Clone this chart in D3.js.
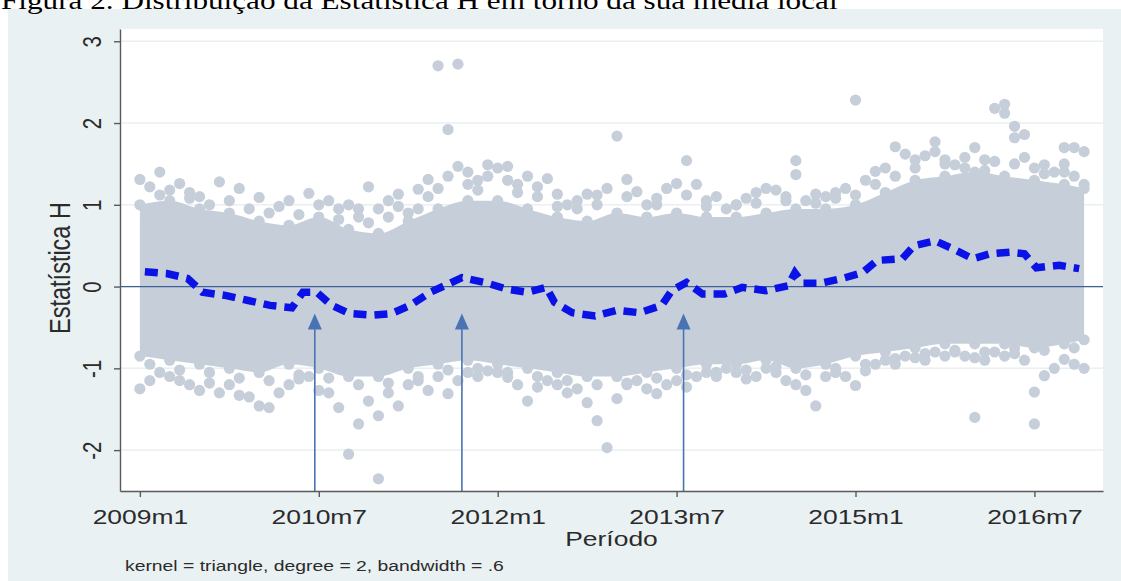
<!DOCTYPE html>
<html>
<head>
<meta charset="utf-8">
<script src="https://cdn.jsdelivr.net/npm/d3@7"></script>
<style>
  body { margin: 0; background: #ffffff; }
  text { font-family: "Liberation Sans", Arial, sans-serif; fill: #2b2b2b; }
</style>
</head>
<body>
<div id="chart"></div>
<script>
// months counted from 2009m1 = 0
var xTickMonths = [0, 18, 36, 54, 72, 90];
var xTickLabels = ["2009m1", "2010m7", "2012m1", "2013m7", "2015m1", "2016m7"];
var yTicks = [-2, -1, 0, 1, 2, 3];

// local polynomial smoother (blue dashed)
var smoothMonth = [0.5, 2.7, 4.8, 6.3, 8.7, 10.9, 13.1, 15.3, 16.4, 17.8, 19.3, 21.1, 23.4, 25.3, 27.2, 29.2, 31.2, 32.4, 34.7, 36.9, 39, 40.9, 41.7, 43.5, 45.8, 48, 50.3, 52.5, 53.5, 55, 56.6, 58.8, 60.6, 63, 65.2, 65.9, 66.7, 68.4, 70.7, 72.7, 74.2, 76.7, 77.9, 80, 82, 83.8, 85.5, 87.5, 89, 90.2, 92.5, 94.5];
var smoothValue = [0.18, 0.16, 0.10, -0.07, -0.11, -0.17, -0.23, -0.26, -0.07, -0.07, -0.23, -0.33, -0.35, -0.33, -0.23, -0.07, 0.04, 0.11, 0.05, -0.03, -0.07, -0.01, -0.19, -0.32, -0.36, -0.29, -0.32, -0.23, -0.05, 0.05, -0.09, -0.09, -0.01, -0.05, 0.01, 0.17, 0.04, 0.04, 0.10, 0.17, 0.32, 0.34, 0.50, 0.56, 0.45, 0.34, 0.40, 0.42, 0.40, 0.23, 0.26, 0.22];

// dense part of the cloud of H statistics (top and bottom)
var bandMonth = [0, 3, 6, 9, 12, 15, 18, 21, 24, 27, 30, 33, 36, 39, 42, 45, 48, 51, 54, 57, 60, 63, 66, 69, 72, 75, 78, 81, 84, 87, 90, 93, 95];
var bandHi = [1.0, 1.05, 0.95, 0.9, 0.8, 0.75, 0.85, 0.7, 0.65, 0.8, 0.95, 1.05, 1.05, 0.95, 0.85, 0.8, 0.9, 0.85, 0.9, 0.85, 0.85, 0.9, 0.95, 0.95, 1.0, 1.15, 1.3, 1.35, 1.4, 1.35, 1.3, 1.25, 1.2];
var bandLo = [-0.85, -0.9, -0.95, -1.0, -1.05, -0.95, -1.0, -1.1, -1.1, -1.0, -0.95, -0.9, -0.95, -1.0, -1.05, -1.1, -1.1, -1.05, -1.0, -0.95, -0.95, -0.9, -1.0, -0.95, -0.85, -0.8, -0.75, -0.7, -0.7, -0.7, -0.75, -0.7, -0.65];

// scattered observations outside the dense band
var upMonth = [0, 2, 4, 8, 12, 17, 19, 23, 26, 28, 29, 30, 32, 31, 32, 35, 37, 39, 41, 42, 45, 48, 49, 50, 54, 55, 56, 59, 63, 66, 66, 68, 71, 72, 74, 76, 77, 80, 80, 82, 84, 86, 87, 87, 88, 88, 89, 89, 86, 91, 93, 94, 95, 95,
  1, 3, 5, 6, 9, 10, 14, 15, 20, 21, 22, 24, 25, 27, 31, 33, 34, 36, 38, 40, 43, 44, 46, 47, 51, 52, 53, 57, 58, 60, 61, 62, 64, 65, 67, 69, 70, 73, 75, 78, 79, 81, 83, 85, 90, 92, 93, 94,
  2, 5, 7, 11, 13, 16, 18, 20, 22, 23, 25, 26, 28, 29, 30, 33, 34, 35, 37, 38, 40, 42, 44, 46, 49, 52, 55, 57, 60, 62, 65, 68, 70, 72, 74, 76, 78, 81, 83, 85, 88, 91, 93];
var upValue = [1.31, 1.40, 1.26, 1.28, 1.09, 1.14, 1.05, 1.22, 1.13, 1.19, 1.31, 2.70, 2.72, 1.92, 1.47, 1.49, 1.47, 1.35, 1.32, 1.13, 1.13, 1.84, 1.31, 1.16, 1.26, 1.54, 1.25, 0.95, 1.20, 1.54, 1.37, 1.13, 1.20, 2.28, 1.41, 1.71, 1.62, 1.77, 1.65, 1.49, 1.70, 2.18, 2.23, 2.12, 1.96, 1.82, 1.86, 1.58, 1.53, 1.49, 1.70, 1.70, 1.65, 1.25,
  1.22, 1.18, 1.15, 1.10, 1.05, 1.20, 0.98, 1.05, 0.95, 1.0, 0.85, 0.95, 1.05, 0.9, 1.35, 1.4, 1.3, 1.45, 1.25, 1.1, 1.0, 1.05, 1.12, 1.2, 1.0, 1.08, 1.2, 1.05, 1.1, 1.0, 1.08, 1.15, 1.18, 1.1, 1.05, 1.1, 1.15, 1.3, 1.45, 1.55, 1.6, 1.55, 1.45, 1.55, 1.45, 1.4, 1.5, 1.35,
  1.12, 1.08, 1.0, 0.95, 0.9, 0.88, 1.0, 0.82, 0.95, 0.78, 0.85, 0.98, 0.95, 1.1, 1.2, 1.25, 1.18, 1.35, 1.3, 1.15, 1.22, 0.98, 0.95, 1.0, 1.1, 1.0, 1.12, 0.98, 1.0, 1.02, 1.05, 1.02, 1.08, 1.12, 1.25, 1.35, 1.45, 1.5, 1.58, 1.42, 1.5, 1.38, 1.4];
var lowMonth = [0, 1, 6, 10, 12, 13, 16, 18, 20, 22, 21, 24, 24, 26, 29, 31, 32, 35, 37, 39, 40, 45, 46, 47, 48, 52, 55, 61, 67, 68, 72, 73, 78, 84, 84, 90, 90, 91, 93, 95,
  2, 3, 4, 5, 7, 8, 9, 11, 14, 15, 17, 19, 23, 25, 27, 28, 30, 33, 34, 36, 38, 41, 42, 43, 44, 49, 50, 51, 53, 54, 56, 57, 58, 59, 60, 62, 63, 64, 65, 66, 69, 70, 71, 74, 75, 76, 77, 79, 80, 81, 82, 83, 85, 86, 87, 88, 89, 92, 94,
  1, 4, 7, 10, 13, 16, 19, 22, 25, 28, 31, 34, 37, 40, 43, 46, 49, 52, 55, 58, 61, 64, 67, 70, 73, 76, 79, 82, 85, 88, 91, 94];
var lowValue = [-1.25, -1.15, -1.27, -1.33, -1.46, -1.48, -1.13, -1.27, -1.48, -1.68, -2.05, -2.35, -1.58, -1.46, -1.27, -1.31, -1.15, -1.03, -1.11, -1.40, -1.23, -1.42, -1.64, -1.97, -1.37, -1.31, -1.23, -1.13, -1.27, -1.46, -1.21, -1.03, -0.87, -0.87, -1.60, -1.29, -1.68, -1.09, -0.89, -1.00,
  -1.05, -1.1, -1.15, -1.2, -1.18, -1.3, -1.2, -1.35, -1.3, -1.2, -1.1, -1.3, -1.4, -1.3, -1.2, -1.15, -1.1, -1.05, -1.1, -1.05, -1.2, -1.15, -1.2, -1.3, -1.25, -1.2, -1.15, -1.25, -1.2, -1.15, -1.1, -1.05, -1.1, -1.0, -1.05, -1.1, -1.0, -1.05, -1.15, -1.2, -1.1, -1.0, -1.1, -0.95, -0.9, -0.95, -0.85, -0.9, -0.8, -0.85, -0.8, -0.85, -0.9, -0.8, -0.85, -0.75, -0.9, -1.0, -0.95,
  -0.95, -1.02, -1.05, -1.12, -1.15, -1.08, -1.12, -1.2, -1.18, -1.1, -1.02, -1.0, -1.05, -1.1, -1.15, -1.2, -1.18, -1.12, -1.08, -1.05, -1.02, -0.98, -1.08, -1.05, -0.95, -0.88, -0.82, -0.78, -0.8, -0.82, -0.78, -0.75];

// arrows marking the local peaks
var arrowMonth = [17.6, 32.4, 54.7];
var arrowTip = -0.33;

var W = 1121, H = 581;
var plot = {left: 120, right: 1103, top: 29, bottom: 491};
var stretch = 1.29; // picture text is widened

var svg = d3.select("#chart").append("svg")
    .attr("width", W)
    .attr("height", H);

// graph region background
svg.append("rect")
    .attr("x", 8).attr("y", 9)
    .attr("width", W - 8).attr("height", H - 9)
    .attr("fill", "#eaf1f3");

// document caption, cut at the top of the picture
svg.append("text")
    .attr("transform", "translate(1,9) scale(1.2,1)")
    .style("font-family", "'Liberation Serif', 'Times New Roman', serif")
    .style("font-size", "26px")
    .style("fill", "#000")
    .text("Figura 2. Distribuição da Estatística H em torno da sua média local");

svg.append("rect")
    .attr("x", plot.left).attr("y", plot.top)
    .attr("width", plot.right - plot.left).attr("height", plot.bottom - plot.top)
    .attr("fill", "#ffffff");

var xScale = d3.scaleLinear()
    .domain([-2, 96.9])
    .range([plot.left, plot.right]);

var yScale = d3.scaleLinear()
    .domain([-2.5, 3.15])
    .range([plot.bottom, plot.top]);

// grid lines
svg.append("g").selectAll("line")
  .data(yTicks)
  .enter().append("line")
    .attr("x1", plot.left).attr("x2", plot.right)
    .attr("y1", function(d) { return yScale(d); })
    .attr("y2", function(d) { return yScale(d); })
    .attr("stroke", "#eaeff1")
    .attr("stroke-width", 1.5);

var dotColor = "#c6cfd9";

// dense band
var band = bandMonth.map(function(m, i) { return {m: m, hi: bandHi[i], lo: bandLo[i]}; });
var area = d3.area()
    .x(function(d) { return xScale(d.m); })
    .y0(function(d) { return yScale(d.lo); })
    .y1(function(d) { return yScale(d.hi); })
    .curve(d3.curveMonotoneX);

svg.append("path")
    .attr("d", area(band))
    .attr("fill", dotColor);

var rad = 5.6;
var dots = svg.append("g");
function addDots(ms, vs) {
  dots.selectAll(null)
    .data(ms.map(function(m, i) { return {m: m, v: vs[i]}; }))
    .enter().append("circle")
      .attr("cx", function(d) { return xScale(d.m); })
      .attr("cy", function(d) { return yScale(d.v); })
      .attr("r", rad)
      .attr("fill", dotColor);
}
addDots(bandMonth, bandHi);
addDots(bandMonth, bandLo);
addDots(upMonth, upValue);
addDots(lowMonth, lowValue);

// zero reference line
svg.append("line")
    .attr("x1", plot.left).attr("x2", plot.right)
    .attr("y1", yScale(0)).attr("y2", yScale(0))
    .attr("stroke", "#3e5f98")
    .attr("stroke-width", 1.3);

// smoother
var smooth = smoothMonth.map(function(m, i) { return {m: m, v: smoothValue[i]}; });
var valueline = d3.line()
    .x(function(d) { return xScale(d.m); })
    .y(function(d) { return yScale(d.v); });

svg.append("path")
    .attr("d", valueline(smooth))
    .attr("fill", "none")
    .attr("stroke", "#0b12e6")
    .attr("stroke-width", 7.5)
    .attr("stroke-dasharray", "13,8");

// arrows
var arrowColor = "#4a73b3";
arrowMonth.forEach(function(m) {
  var ax = xScale(m), tip = yScale(arrowTip);
  svg.append("line")
      .attr("x1", ax).attr("x2", ax)
      .attr("y1", plot.bottom).attr("y2", tip + 10)
      .attr("stroke", arrowColor)
      .attr("stroke-width", 1.6);
  svg.append("path")
      .attr("d", "M" + ax + "," + tip + "L" + (ax - 7) + "," + (tip + 16) + "L" + (ax + 7) + "," + (tip + 16) + "Z")
      .attr("fill", arrowColor);
});

// axes
var axisColor = "#5a5a5a";
var xAxis = svg.append("g")
    .attr("transform", "translate(0," + plot.bottom + ")")
    .call(d3.axisBottom(xScale)
      .tickValues(xTickMonths)
      .tickFormat(function(d, i) { return xTickLabels[i]; })
      .tickSize(6)
      .tickSizeOuter(0));
xAxis.select(".domain").attr("stroke", axisColor).attr("stroke-width", 1.4);
xAxis.selectAll(".tick line").attr("stroke", axisColor).attr("stroke-width", 1.4);
xAxis.selectAll(".tick text")
    .attr("y", 0).attr("dy", 0)
    .attr("transform", "translate(0,33) scale(" + stretch + ",1)")
    .style("font-size", "20.5px")
    .style("fill", "#2b2b2b");

var yAxis = svg.append("g")
    .attr("transform", "translate(" + plot.left + ",0)")
    .call(d3.axisLeft(yScale)
      .tickValues(yTicks)
      .tickFormat(d3.format("d"))
      .tickSize(6)
      .tickSizeOuter(0));
yAxis.select(".domain").attr("stroke", axisColor).attr("stroke-width", 1.4);
yAxis.selectAll(".tick line").attr("stroke", axisColor).attr("stroke-width", 1.4);
yAxis.selectAll(".tick text")
    .attr("x", 0).attr("dy", 0)
    .attr("text-anchor", "middle")
    .attr("transform", "translate(-19,0) scale(" + stretch + ",1) rotate(-90)")
    .style("font-size", "20.5px")
    .style("fill", "#2b2b2b")
    .text(function(d) { return d < 0 ? "-" + Math.abs(d) : d; });

// titles
svg.append("text")
    .attr("text-anchor", "middle")
    .attr("transform", "translate(" + (plot.left + plot.right) / 2 + ",546) scale(" + stretch + ",1)")
    .style("font-size", "20.5px")
    .text("Período");

svg.append("text")
    .attr("text-anchor", "middle")
    .attr("transform", "translate(70,268) scale(" + stretch + ",1) rotate(-90)")
    .style("font-size", "23.5px")
    .text("Estatística H");

svg.append("text")
    .attr("transform", "translate(125,571) scale(" + stretch + ",1)")
    .style("font-size", "15px")
    .text("kernel = triangle, degree = 2, bandwidth = .6");
</script>
</body>
</html>
